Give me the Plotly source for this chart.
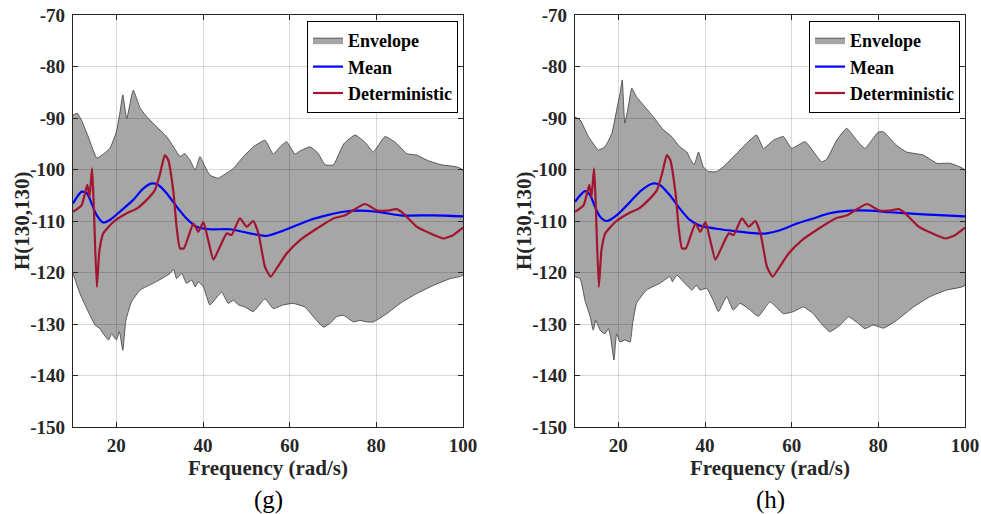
import plotly.graph_objects as go

# ---- panel (g) -------------------------------------------------------------
g_upper_f = [10, 11, 12, 13.5, 15.5, 17, 18.5, 20, 20.8, 21.5, 22.4, 23.9, 25.5, 27.4,
             29.3, 31.6, 33.2, 34.7, 35.8, 37, 38.2, 39.3, 40.5, 41.6, 43.5, 44.7, 47,
             49.3, 51.6, 54.3, 56.2, 57.8, 59.3, 61.2, 62.4, 64.7, 66.5, 68.2, 70.1,
             72.5, 75.1, 77.5, 79.3, 82, 84.5, 87, 89.3, 92, 95.1, 98.6, 100]
g_upper_v = [-89.4, -89.1, -90.5, -93.6, -97.8, -97.0, -95.9, -92.7, -89.1, -85.5,
             -90.1, -84.6, -88.1, -90.1, -91.7, -93.6, -95.6, -97.5, -96.9, -98.2,
             -100.1, -97.5, -99.5, -101.1, -101.7, -101.1, -99.8, -97.5, -95.6, -94.3,
             -97.0, -95.6, -94.6, -97.0, -96.4, -95.6, -96.8, -99.1, -99.1, -95.0,
             -93.3, -94.8, -96.6, -93.6, -94.8, -96.9, -97.2, -98.3, -99.1, -99.5,
             -100.1]
g_lower_f = [10, 11.6, 13.5, 15.1, 16.2, 17, 18.2, 18.9, 20, 20.7, 21.5, 22.2, 23.5,
             25.5, 28.5, 32.4, 33.2, 33.9, 35.1, 36.2, 37.4, 38.2, 38.9, 40.1, 41.6,
             44.3, 45.8, 47, 48.2, 49.7, 51.6, 54.3, 56.2, 58.5, 60.8, 63.5, 66.2,
             67.8, 69.3, 70.8, 72.4, 74.7, 76.2, 77.8, 79.3, 82.4, 85.5, 89.3, 93.2,
             97, 100]
g_lower_v = [-120.2, -124.1, -127.6, -130.2, -130.9, -131.9, -133.1, -131.9, -133.1,
             -131.5, -135.1, -129.3, -125.7, -123.4, -122.1, -120.2, -119.4, -121.2,
             -120.2, -122.1, -121.5, -122.8, -121.8, -122.8, -126.3, -123.8, -126.0,
             -125.4, -126.3, -126.7, -127.6, -125.1, -127.0, -126.3, -126.0, -126.7,
             -129.3, -130.6, -129.9, -128.6, -128.3, -129.6, -129.3, -129.6, -129.6,
             -128.0, -126.0, -124.1, -122.5, -121.2, -120.5]
g_mean_f = [10, 12, 13.2, 14.3, 15.5, 17, 18.5, 20.8, 23.9, 26.2, 28.2, 29.7, 31.6,
            33.9, 36.2, 38.5, 41.6, 46.2, 50.8, 54.7, 57.8, 60.8, 64.7, 68.5, 72.4,
            76.2, 80.1, 85.5, 93.2, 100]
g_mean_v = [-106.6, -104.3, -104.6, -106.6, -108.9, -110.3, -109.8, -108.2, -105.9,
            -103.7, -102.7, -103.0, -104.6, -107.2, -109.5, -111.1, -111.6, -111.6,
            -112.4, -112.9, -112.1, -111.1, -109.8, -108.9, -108.2, -108.0, -108.2,
            -108.9, -108.9, -109.1]

# ---- panel (h) -------------------------------------------------------------
h_upper_f = [10, 11.2, 13.1, 15.4, 16.9, 18.5, 19.6, 20.4, 20.9, 21.5, 22.3, 23.1,
             24.2, 25.8, 28.1, 30.4, 32.3, 34.2, 35.8, 36.5, 37.5, 38.5, 39.6, 40.8,
             42.7, 44.2, 47.3, 49.6, 51.9, 53.5, 55.8, 58.1, 60, 63.1, 66.9, 68.1,
             70.4, 72.7, 75, 76.9, 80, 81.2, 84.2, 86.5, 90.4, 93.5, 96.5, 100]
h_upper_v = [-89.8, -90.4, -93.6, -96.2, -95.6, -93.0, -88.5, -85.2, -82.6, -91.0,
             -87.8, -84.2, -85.9, -87.5, -89.8, -92.3, -93.6, -95.6, -96.6, -97.8,
             -99.1, -96.6, -99.5, -100.4, -100.4, -99.5, -96.9, -94.9, -93.3, -95.9,
             -94.3, -93.6, -95.9, -94.6, -98.5, -98.0, -94.3, -92.0, -94.3, -95.9,
             -92.7, -92.7, -95.3, -96.6, -97.2, -98.8, -98.8, -100.1]
h_lower_f = [10, 11.2, 12.3, 13.5, 14.2, 14.8, 15.8, 16.9, 17.7, 18.2, 19, 19.6, 20.4,
             21.5, 22.7, 23.3, 24.2, 26.5, 29.6, 31.9, 32.5, 33.5, 35, 36.2, 36.9,
             38.1, 38.8, 40.4, 41.9, 43.1, 45, 46.5, 48.1, 50, 52.3, 55, 58.1, 60.4,
             62.7, 65, 66.5, 68.8, 71.2, 73.1, 75.4, 76.9, 78.8, 81.2, 84.2, 88.1,
             91.9, 95.8, 100]
h_lower_v = [-120.8, -121.2, -125.4, -128.6, -131.2, -129.3, -131.2, -131.9, -130.9,
             -132.5, -137.0, -131.9, -133.5, -133.1, -133.5, -129.9, -126.0, -123.4,
             -122.1, -120.8, -121.8, -120.5, -121.8, -122.8, -123.4, -122.5, -123.4,
             -123.1, -125.4, -127.6, -124.7, -127.3, -126.0, -127.0, -128.5, -125.7,
             -128.0, -127.6, -126.7, -128.0, -129.6, -131.5, -130.2, -128.6, -129.9,
             -130.9, -130.2, -130.8, -129.3, -126.7, -124.7, -123.4, -122.5]
h_mean_f = [10, 11.2, 12.3, 13.5, 14.6, 15.8, 17.3, 19.6, 22.7, 25.4, 28.1, 29.6, 31.9,
            34.2, 36.5, 38.8, 42.7, 47.3, 51.9, 54.2, 57.3, 61.2, 65, 68.8, 73.5, 78.1,
            82.7, 90.4, 100]
h_mean_v = [-106.3, -105.0, -104.2, -105.0, -107.2, -109.2, -110.0, -108.9, -106.3,
            -104.0, -102.7, -103.0, -105.0, -107.6, -109.8, -110.9, -111.5, -112.0,
            -112.4, -112.4, -111.8, -110.5, -109.5, -108.5, -108.0, -108.0, -108.3,
            -108.7, -109.1]

# ---- deterministic response (same in both panels) -------------------------
det_f = [10, 12, 13.3, 13.8, 14.4, 14.8, 15.5, 16.1, 17, 19.3, 22.4, 24.7, 27, 28.9,
         30.1, 31.2, 32, 33.2, 33.9, 34.7, 35.6, 36.6, 37.8, 38.9, 40.1, 41.2, 42.4,
         43.9, 45.5, 46.6, 48.5, 50.1, 51.6, 52.8, 54.3, 55.6, 57, 59.3, 62.4, 66.2,
         70.1, 72.8, 74.7, 77.4, 80.1, 82.4, 84.7, 86.2, 89.3, 92.4, 95.5, 97.8, 100]
det_v = [-108.2, -106.9, -103.0, -105.3, -99.8, -107.2, -122.8, -115.7, -112.4,
         -110.2, -108.5, -107.6, -105.9, -104.0, -100.8, -97.2, -98.2, -104.6, -111.1,
         -115.3, -115.3, -113.1, -110.5, -112.1, -110.2, -113.7, -117.5, -115.0,
         -112.4, -112.7, -109.5, -111.1, -110.0, -112.4, -118.9, -120.8, -119.2,
         -116.3, -113.7, -111.5, -109.5, -108.9, -107.9, -106.7, -107.9, -108.0,
         -107.7, -108.5, -111.1, -112.4, -113.4, -112.7, -111.3]

x_ticks = [20, 40, 60, 80, 100]
y_ticks = [-150, -140, -130, -120, -110, -100, -90, -80, -70]
y_tick_text = ["-150", "-140", "-130", "-120", "-110", "-100", "-90", "-80", "-70"]
panel_labels = ["(g)", "(h)"]
series_names = ["Envelope", "Mean", "Deterministic"]
x_title = "Frequency (rad/s)"
y_title = "H(130,130)"

SERIF = "'Liberation Serif', 'Times New Roman', Times, serif"
AXIS_COLOR = "#262626"
FILL = "rgba(0,0,0,0.35)"
EDGE = "#3a3a3a"
BLUE = "#0000ff"
RED = "#a2142f"

panels = [
    (g_upper_f, g_upper_v, g_lower_f, g_lower_v, g_mean_f, g_mean_v),
    (h_upper_f, h_upper_v, h_lower_f, h_lower_v, h_mean_f, h_mean_v),
]

W, H = 981, 514
x_domains = [[73 / W, 463 / W], [575 / W, 965 / W]]
y_domain = [87 / H, 499 / H]

fig = go.Figure()

for i, (uf, uv, lf, lv, mf, mv) in enumerate(panels):
    xa = "x" if i == 0 else "x2"
    ya = "y" if i == 0 else "y2"
    lg = "legend" if i == 0 else "legend2"
    # closed polygon: upper bound left-to-right, lower bound back right-to-left
    poly_x = list(uf) + list(lf)[::-1]
    poly_y = list(uv) + list(lv)[::-1]
    fig.add_trace(go.Scatter(
        x=poly_x, y=poly_y, fill="toself", fillcolor=FILL,
        line=dict(color=EDGE, width=0.8, shape="spline", smoothing=0.4), mode="lines",
        name=series_names[0], xaxis=xa, yaxis=ya, legend=lg, hoverinfo="skip"))
    fig.add_trace(go.Scatter(
        x=mf, y=mv, mode="lines", line=dict(color=BLUE, width=2.2, shape="spline", smoothing=0.7),
        name=series_names[1], xaxis=xa, yaxis=ya, legend=lg))
    fig.add_trace(go.Scatter(
        x=det_f, y=det_v, mode="lines", line=dict(color=RED, width=2.2, shape="spline", smoothing=0.5),
        name=series_names[2], xaxis=xa, yaxis=ya, legend=lg))

tick_font = dict(family=SERIF, size=19, color="#262626", weight="bold")
title_font = dict(family=SERIF, size=21, color="#262626", weight="bold")

axis_common = dict(
    showline=True, linecolor=AXIS_COLOR, linewidth=1.3, mirror="ticks",
    ticks="inside", ticklen=5, tickwidth=1, tickcolor=AXIS_COLOR,
    showgrid=True, gridcolor="rgba(0,0,0,0.15)", gridwidth=1,
    zeroline=False, tickfont=tick_font, automargin=False,
)

legend_common = dict(
    font=dict(family=SERIF, size=18, color="black", weight="bold"),
    bgcolor="white", bordercolor="black", borderwidth=1,
    itemwidth=30, tracegroupgap=0, xanchor="right", yanchor="top",
)

layout = dict(
    width=W, height=H, margin=dict(l=0, r=0, t=0, b=0),
    paper_bgcolor="white", plot_bgcolor="white", showlegend=True,
    legend=dict(x=458 / W, y=493 / H, **legend_common),
    legend2=dict(x=960 / W, y=493 / H, **legend_common),
)

for i in range(2):
    sx = "" if i == 0 else "2"
    layout["xaxis" + sx] = dict(
        domain=x_domains[i], range=[10, 100], tickvals=x_ticks, anchor="y" + sx,
        title=dict(text=x_title, font=title_font, standoff=2),
        ticklabelstandoff=1, **axis_common)
    layout["yaxis" + sx] = dict(
        domain=y_domain, range=[-150, -70], tickvals=y_ticks, ticktext=y_tick_text,
        anchor="x" + sx, ticklabelstandoff=3, **axis_common)

fig.update_layout(**layout)

# y-axis titles and panel captions
y_title_x = [22 / W, 524 / W]
for i, lab in enumerate(panel_labels):
    fig.add_annotation(text=y_title, x=y_title_x[i], y=sum(y_domain) / 2,
                       xref="paper", yref="paper", textangle=-90,
                       xanchor="center", yanchor="middle", showarrow=False,
                       font=title_font)
    cx = (x_domains[i][0] + x_domains[i][1]) / 2
    fig.add_annotation(text=lab, x=cx, y=14 / H, xref="paper", yref="paper",
                       xanchor="center", yanchor="middle", showarrow=False,
                       font=dict(family=SERIF, size=25, color="black"))

fig.write_html("out.html")
